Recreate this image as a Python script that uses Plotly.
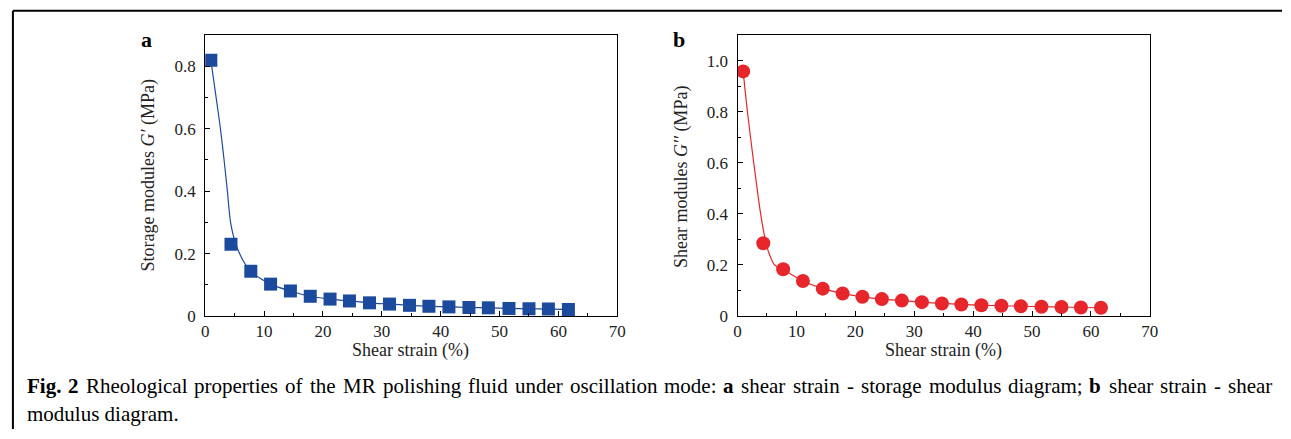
import plotly.graph_objects as go

W, H = 1291, 439

# ---- data ----
strain = [0.95, 4.37, 7.74, 11.1, 14.47, 17.84, 21.2, 24.5, 27.9, 31.3,
          34.7, 38.0, 41.4, 44.8, 48.1, 51.6, 55.0, 58.3, 61.7]
storage = [0.820, 0.230, 0.143, 0.102, 0.080, 0.063, 0.054, 0.048, 0.042, 0.038,
           0.034, 0.031, 0.029, 0.027, 0.026, 0.024, 0.023, 0.022, 0.021]
shear = [0.958, 0.285, 0.183, 0.137, 0.107, 0.088, 0.075, 0.066, 0.060, 0.054,
         0.049, 0.045, 0.042, 0.040, 0.038, 0.036, 0.035, 0.033, 0.032]

fit_a_x = [0.95, 1.85, 2.58, 3.2, 3.76, 4.3, 5.2, 6.45, 7.74, 11.1, 14.47, 17.84,
           21.2, 24.5, 27.9, 31.3, 34.7, 38.0, 41.4, 44.8, 48.1, 51.6, 55.0, 58.3, 61.7]
fit_a_y = [0.820, 0.700, 0.600, 0.500, 0.400, 0.300, 0.230, 0.177, 0.143, 0.102,
           0.080, 0.063, 0.054, 0.048, 0.042, 0.038, 0.034, 0.031, 0.029, 0.027,
           0.026, 0.024, 0.023, 0.022, 0.021]
fit_b_x = [0.95, 1.68, 2.75, 3.92, 4.7, 5.27, 6.28, 7.68, 11.1, 14.47, 17.84,
           21.2, 24.5, 27.9, 31.3, 34.7, 38.0, 41.4, 44.8, 48.1, 51.6, 55.0, 58.3, 61.7]
fit_b_y = [0.958, 0.800, 0.600, 0.400, 0.300, 0.250, 0.200, 0.183, 0.137, 0.107,
           0.088, 0.075, 0.066, 0.060, 0.054, 0.049, 0.045, 0.042, 0.040, 0.038,
           0.036, 0.035, 0.033, 0.032]

x_ticks = [0, 10, 20, 30, 40, 50, 60, 70]
x_ticklabels = ["0", "10", "20", "30", "40", "50", "60", "70"]
ya_ticks = [0, 0.2, 0.4, 0.6, 0.8]
ya_ticklabels = ["0", "0.2", "0.4", "0.6", "0.8"]
yb_ticks = [0, 0.2, 0.4, 0.6, 0.8, 1.0]
yb_ticklabels = ["0", "0.2", "0.4", "0.6", "0.8", "1.0"]

caption_line1 = ["<b>Fig.</b>", "<b>2</b>", "Rheological", "properties", "of", "the", "MR",
                 "polishing", "fluid", "under", "oscillation", "mode:", "<b>a</b>", "shear",
                 "strain", "-", "storage", "modulus", "diagram;", "<b>b</b>", "shear",
                 "strain", "-", "shear"]
caption_line2 = "modulus diagram."

BLUE = "#1c4b9e"
RED = "#e6262b"
FONT = "Liberation Serif"

# Times / Liberation Serif advance widths (per 1000 em)
REG = {" ": 250, "(": 333, ")": 333, "%": 833, "-": 333, ".": 250, ":": 278, ";": 278,
       "F": 556, "M": 889, "R": 667,
       "a": 444, "b": 500, "c": 444, "d": 500, "e": 444, "f": 333, "g": 500, "h": 500,
       "i": 278, "j": 278, "k": 500, "l": 278, "m": 778, "n": 500, "o": 500, "p": 500,
       "q": 500, "r": 333, "s": 389, "t": 278, "u": 500, "v": 500, "w": 722, "x": 500,
       "y": 500, "z": 444}
BOLD = {"F": 611, "i": 278, "g": 500, ".": 250, "2": 500, "a": 500, "b": 556}


def word_width(w, size):
    if w.startswith("<b>"):
        t = w[3:-4]
        return sum(BOLD.get(c, 500) for c in t) * size / 1000
    return sum(REG.get(c, 500) for c in w) * size / 1000


fig = go.Figure()
fig.add_trace(go.Scatter(x=fit_a_x, y=fit_a_y, mode="lines",
                         line=dict(color=BLUE, width=1.2, shape="spline", smoothing=0.8),
                         xaxis="x", yaxis="y", showlegend=False, hoverinfo="skip"))
fig.add_trace(go.Scatter(x=strain, y=storage, mode="markers",
                         marker=dict(symbol="square", size=13, color=BLUE),
                         xaxis="x", yaxis="y", showlegend=False))
fig.add_trace(go.Scatter(x=fit_b_x, y=fit_b_y, mode="lines",
                         line=dict(color=RED, width=1.2, shape="spline", smoothing=0.8),
                         xaxis="x2", yaxis="y2", showlegend=False, hoverinfo="skip"))
fig.add_trace(go.Scatter(x=strain, y=shear, mode="markers",
                         marker=dict(symbol="circle", size=14, color=RED),
                         xaxis="x2", yaxis="y2", showlegend=False))


def px(x):
    return x / W


def py(y):
    return 1 - y / H


ydom = [py(323.3), py(36)]
axis_common = dict(showline=True, linecolor="black", linewidth=1.3, mirror=True,
                   ticks="inside", ticklen=5, tickwidth=1.2, tickcolor="black",
                   showgrid=False, zeroline=False,
                   tickfont=dict(family=FONT, size=17, color="#222"))
minor_x = dict(ticks="inside", ticklen=3, tickwidth=1.2, tickcolor="black", dtick=5, tick0=0)
minor_y = dict(ticks="inside", ticklen=3, tickwidth=1.2, tickcolor="black", dtick=0.1, tick0=0)

fig.update_layout(
    width=W, height=H, margin=dict(l=0, r=0, t=0, b=0),
    paper_bgcolor="white", plot_bgcolor="white",
    xaxis=dict(domain=[px(203.3), px(619.5)], range=[0, 70], tickvals=x_ticks, ticktext=x_ticklabels,
               anchor="y", minor=minor_x, ticklabelstandoff=0, **axis_common),
    yaxis=dict(domain=ydom, range=[0, 0.9], tickvals=ya_ticks, ticktext=ya_ticklabels,
               anchor="x", minor=minor_y, ticklabelstandoff=5, **axis_common),
    xaxis2=dict(domain=[px(741), px(1157.5)], range=[0, 70], tickvals=x_ticks, ticktext=x_ticklabels,
                anchor="y2", minor=minor_x, ticklabelstandoff=0, **axis_common),
    yaxis2=dict(domain=ydom, range=[0, 1.1], tickvals=yb_ticks, ticktext=yb_ticklabels,
                anchor="x2", minor=minor_y, ticklabelstandoff=5, **axis_common),
)

ann = []


def text(x, y, t, size=18, angle=0, xanchor="center", yanchor="middle", color="#222"):
    ann.append(dict(x=px(x), y=py(y), xref="paper", yref="paper", text=t, showarrow=False,
                    textangle=angle, xanchor=xanchor, yanchor=yanchor, borderpad=0,
                    font=dict(family=FONT, size=size, color=color)))


text(144, 40, "<b>a</b>", size=22, color="black")
text(682, 40, "<b>b</b>", size=22, color="black")
text(146, 180, "Storage modules <i>G′</i> (MPa)", angle=-90)
text(685, 181, "Shear modules <i>G′′</i> (MPa)", angle=-90)
text(411, 359, "Shear strain (%)")
text(949, 359, "Shear strain (%)")

# justified first caption line
CAP = 21
left, right = 22, 1280
widths = [word_width(w, CAP) for w in caption_line1]
gap = (right - left - sum(widths)) / (len(caption_line1) - 1)
xpos = left
for w, wd in zip(caption_line1, widths):
    text(xpos, 395, w, size=CAP, xanchor="left", color="black")
    xpos += wd + gap
text(22, 424, caption_line2, size=CAP, xanchor="left", color="black")
fig.update_layout(annotations=ann)

fig.update_layout(shapes=[
    dict(type="line", xref="paper", yref="paper", x0=px(9), x1=1, y0=py(11), y1=py(11),
         line=dict(color="black", width=2)),
    dict(type="line", xref="paper", yref="paper", x0=px(9), x1=px(9), y0=py(11), y1=0,
         line=dict(color="black", width=2)),
])

post = (
    "document.documentElement.style.margin='0';"
    "document.documentElement.style.overflow='hidden';"
    "document.body.style.margin='0';document.body.style.padding='0';"
    "document.body.style.overflow='hidden';"
)
fig.write_html("out.html", config={"displayModeBar": False}, post_script=post)
